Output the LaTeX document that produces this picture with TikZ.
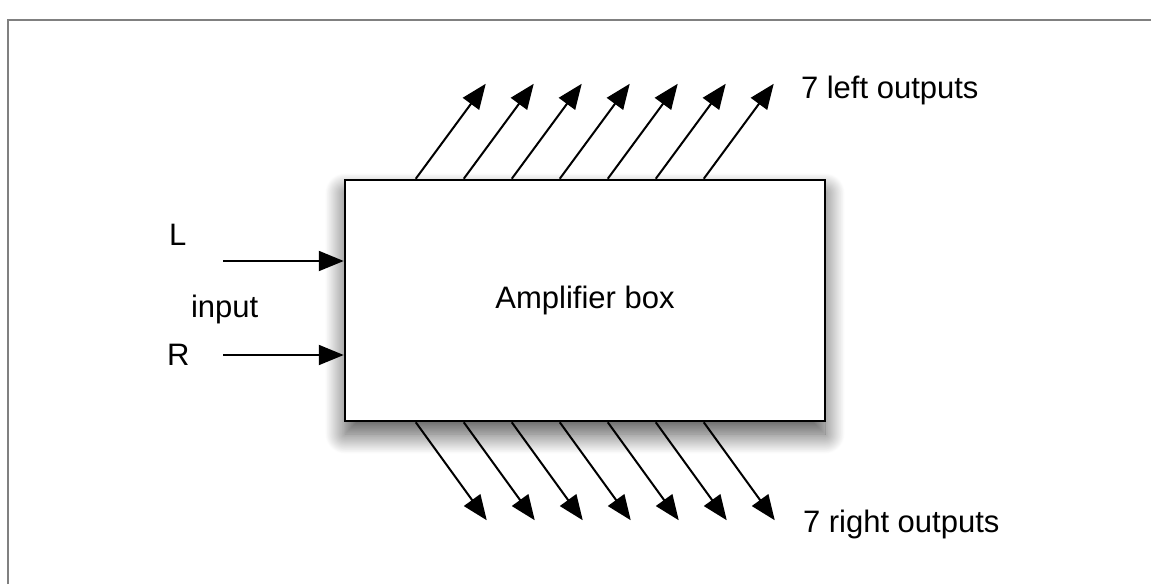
\documentclass[tikz,border=0pt]{standalone}
\usepackage{fontspec}
\setmainfont{Liberation Sans}
\usetikzlibrary{positioning,arrows.meta,shadows.blur}

\begin{document}
\begin{tikzpicture}[x=1pt,y=-1pt,line width=2pt,
  every node/.style={font=\fontsize{31}{37}\selectfont,inner sep=0pt},
  tip/.style={-{Triangle[length=25pt,width=20pt]}}]

\useasboundingbox (0,0) rectangle (1151,584);
\draw[black!50] (8,584) -- (8,20) -- (1151,20);

\node (amp) [draw,line width=2.5pt,fill=white,minimum width=480pt,minimum height=241pt,
  blur shadow={shadow xshift=0pt,shadow yshift=-13pt,shadow blur radius=20pt,
    shadow blur steps=30,shadow opacity=70}]
  at (585,300.5) {Amplifier box};

\node (L) [anchor=base west] at (168,245) {L};
\node (in) [anchor=base west] at (190,317) {input};
\node (R) [anchor=base west] at (166,365) {R};

\coordinate (Lsrc) at (223,261);
\coordinate (Rsrc) at (223,355);

\path[tip]
(Lsrc) edge (Lsrc -| amp.west)
(Rsrc) edge (Rsrc -| amp.west);

\foreach \i in {0,...,6} {
  \coordinate (ls\i) at ([xshift=72pt+48pt*\i]amp.north west);
  \coordinate (lt\i) at ([xshift=70pt,yshift=95pt]ls\i);
  \coordinate (rs\i) at ([xshift=72pt+48pt*\i]amp.south west);
  \coordinate (rt\i) at ([xshift=71pt,yshift=-98pt]rs\i);
  \path[tip] (ls\i) edge (lt\i)
             (rs\i) edge (rt\i);
}

\node (lout) [anchor=base west] at (800,98) {7 left outputs};
\node (rout) [anchor=base west] at (802,532) {7 right outputs};

\end{tikzpicture}
\end{document}
